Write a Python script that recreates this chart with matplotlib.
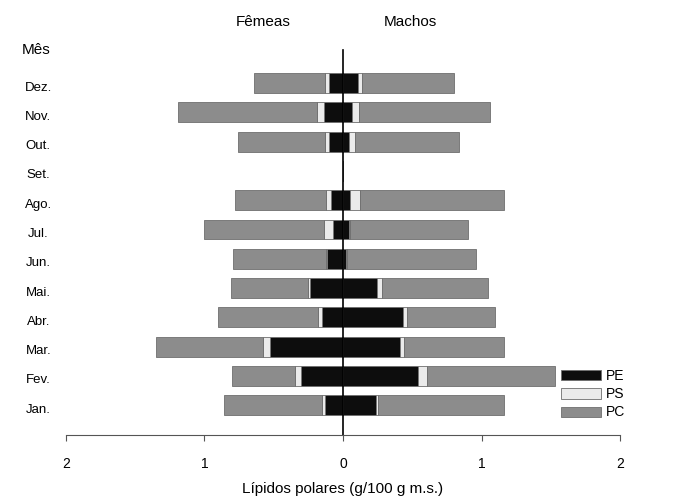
import numpy as np
import matplotlib
matplotlib.use("Agg")
import matplotlib.pyplot as plt
import matplotlib.transforms as mtransforms

plt.rcParams['font.family'] = ['Liberation Sans', 'DejaVu Sans']

meses = ["Jan.", "Fev.", "Mar.", "Abr.", "Mai.", "Jun.", "Jul.", "Ago.", "Set.", "Out.", "Nov.", "Dez."]

# fêmeas (lado esquerdo)
fem_pe = [0.13, 0.30, 0.525, 0.15, 0.24, 0.115, 0.07, 0.09, 0, 0.10, 0.14, 0.10]
fem_ps = [0.02, 0.05, 0.055, 0.03, 0.01, 0.01, 0.07, 0.03, 0, 0.03, 0.05, 0.03]
fem_pc = [0.71, 0.45, 0.77, 0.72, 0.56, 0.67, 0.86, 0.66, 0, 0.63, 1.00, 0.51]

# machos (lado direito)
mac_pe = [0.235, 0.54, 0.415, 0.435, 0.245, 0.02, 0.04, 0.05, 0, 0.04, 0.065, 0.11]
mac_ps = [0.02, 0.07, 0.025, 0.03, 0.035, 0.01, 0.01, 0.07, 0, 0.05, 0.05, 0.03]
mac_pc = [0.905, 0.92, 0.72, 0.635, 0.77, 0.93, 0.85, 1.045, 0, 0.745, 0.945, 0.66]

cores = {"PE": "#0d0d0d", "PS": "#ebebeb", "PC": "#8c8c8c"}

fig = plt.figure(figsize=(6.83, 4.99), dpi=100)
ax = fig.add_axes([0.0966, 0.128, 0.8112, 0.772])

y = np.arange(len(meses))
h = 0.68
fpe = np.array(fem_pe); fps = np.array(fem_ps); fpc = np.array(fem_pc)
mpe = np.array(mac_pe); mps = np.array(mac_ps); mpc = np.array(mac_pc)

kw = dict(height=h, edgecolor="#6e6e6e", linewidth=0.6)
# fêmeas: valores negativos
ax.barh(y, -fpe, left=0, color=cores["PE"], label="PE", **kw)
ax.barh(y, -fps, left=-fpe, color=cores["PS"], label="PS", **kw)
ax.barh(y, -fpc, left=-(fpe + fps), color=cores["PC"], label="PC", **kw)
# machos
ax.barh(y, mpe, left=0, color=cores["PE"], **kw)
ax.barh(y, mps, left=mpe, color=cores["PS"], **kw)
ax.barh(y, mpc, left=mpe + mps, color=cores["PC"], **kw)

ax.axvline(0, color="black", linewidth=1.2, ymin=0, ymax=1, clip_on=False)

ax.set_xlim(-2, 2)
ax.set_ylim(-1.02, 12.13)

ax.set_xticks([-2, -1, 0, 1, 2])
ax.set_xticklabels(["2", "1", "0", "1", "2"], fontsize=10)
ax.tick_params(axis="x", direction="out", length=4, pad=12, color="#555555")
ax.set_yticks(y)
ax.set_yticklabels(meses, fontsize=9.5)
ax.tick_params(axis="y", length=0, pad=20)
# rótulos dos meses um pouco abaixo do centro das barras
desce = mtransforms.ScaledTranslation(0, -3 / 100, fig.dpi_scale_trans)
for t in ax.get_yticklabels():
    t.set_ha("center")
    t.set_transform(t.get_transform() + desce)

for s in ["top", "right", "left"]:
    ax.spines[s].set_visible(False)
ax.spines["bottom"].set_color("#555555")

ax.set_xlabel("Lípidos polares (g/100 g m.s.)", fontsize=11, labelpad=8)

fig.text(263 / 683, 1 - 22 / 499, "Fêmeas", fontsize=11, ha="center", va="center")
fig.text(410 / 683, 1 - 22 / 499, "Machos", fontsize=11, ha="center", va="center")
fig.text(36 / 683, 1 - 50 / 499, "Mês", fontsize=11, ha="center", va="center")

ax.legend(loc="lower left", bbox_to_anchor=(548 / 683, (499 - 432) / 499),
          bbox_transform=fig.transFigure, frameon=False, fontsize=10,
          handlelength=2.9, handleheight=0.75, labelspacing=0.3, handletextpad=0.35)

fig.savefig("out.png", dpi=100)
